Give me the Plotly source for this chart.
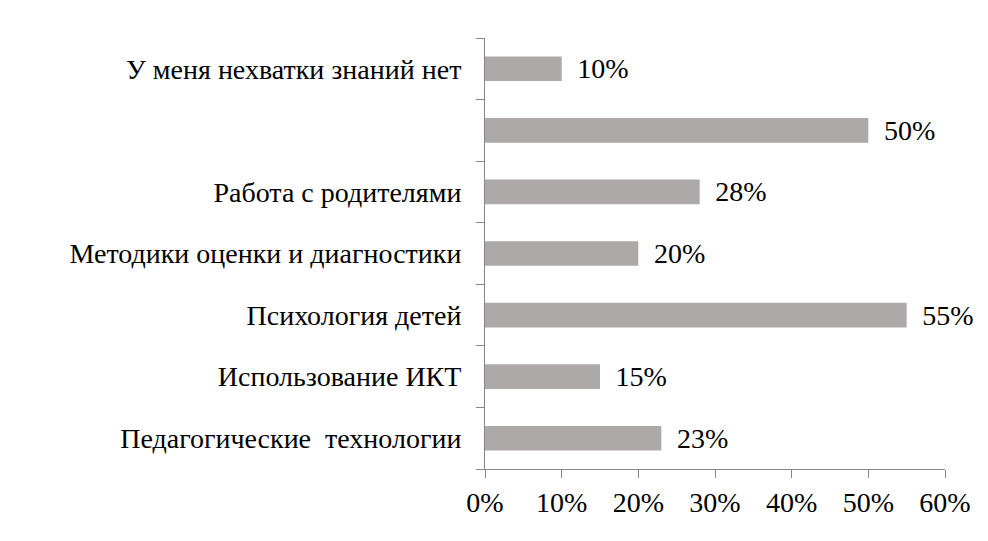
import plotly.graph_objects as go

categories = ["Педагогические  технологии", "Использование ИКТ", "Психология детей",
              "Методики оценки и диагностики", "Работа с родителями", " ",
              "У меня нехватки знаний нет"]
values = [23, 15, 55, 20, 28, 50, 10]
x_ticks = [0, 10, 20, 30, 40, 50, 60]
x_tick_labels = [f"{t}%" for t in x_ticks]

FONT = "Times New Roman, Liberation Serif, DejaVu Serif, serif"
FS = 28

fig = go.Figure(go.Bar(
    x=values, y=categories, orientation="h",
    marker=dict(color="#ADA9A9", line=dict(width=0)),
    width=0.4,
    text=[f"\u2009 {v}%" for v in values],
    textposition="outside",
    textfont=dict(family=FONT, size=FS, color="black"),
    cliponaxis=False,
))

fig.update_layout(
    width=988, height=541,
    margin=dict(l=485, r=43, t=38, b=72),
    paper_bgcolor="white", plot_bgcolor="white",
    showlegend=False,
    font=dict(family=FONT, size=FS, color="black"),
    uniformtext=dict(minsize=FS, mode="show"),
)
fig.update_xaxes(
    range=[0, 60], tickmode="array", tickvals=x_ticks, ticktext=x_tick_labels,
    showgrid=False, zeroline=False,
    showline=True, linecolor="#868686", linewidth=1,
    ticks="outside", ticklen=8, tickcolor="#868686",
    ticklabelstandoff=0,
    tickfont=dict(family=FONT, size=FS, color="black"),
)
fig.update_yaxes(
    categoryorder="array", categoryarray=categories,
    showgrid=False, zeroline=False,
    showline=True, linecolor="#868686", linewidth=1,
    ticks="outside", ticklen=8, tickcolor="#868686",
    tickson="boundaries",
    ticklabelstandoff=17,
    tickfont=dict(family=FONT, size=FS, color="black"),
)

fig.write_html("out.html")
